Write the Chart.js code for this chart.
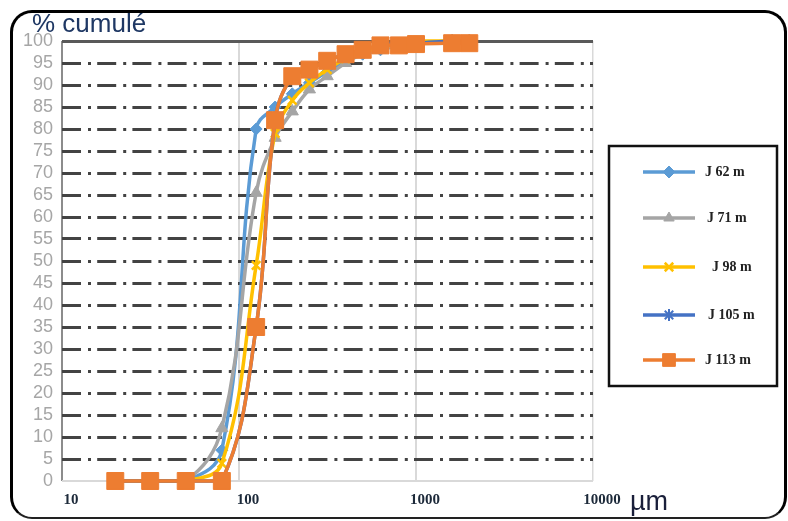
<!DOCTYPE html>
<html>
<head>
<meta charset="utf-8">
<script src="https://cdn.jsdelivr.net/npm/chart.js@4.4.1/dist/chart.umd.min.js"></script>
<style>
  html, body { margin: 0; padding: 0; background: #fff; }
  #wrap { position: relative; width: 788px; height: 521px; overflow: hidden; }
  #frame {
    position: absolute; left: 10px; top: 10px; width: 777px; height: 509px;
    box-sizing: border-box; border: 3px solid #000; border-bottom: 2px solid #222;
    border-radius: 22px; pointer-events: none;
  }
  canvas { position: absolute; left: 0; top: 0; }
</style>
</head>
<body>
<div id="wrap">
  <canvas id="c" width="788" height="521"></canvas>
  <div id="frame"></div>
</div>
<script>
// Sieve openings (µm) and cumulative passing (%) for each sample depth
const sizes = [20, 31.5, 50, 80, 125, 160, 200, 250, 315, 400, 500, 630, 800, 1000, 1600, 2000];
const j62  = [0, 0, 0, 7,  80,   85, 88,   90.5, 93,   95.5, 97,   98,   99,   99.5, 100,  100];
const j71  = [0, 0, 0, 12, 65.5, 78, 84,   89,   92,   95,   97,   98,   99,   99.5, 100,  100];
const j98  = [0, 0, 0, 4,  49,   79, 86.5, 90.5, 93.5, 96,   97.5, 98.5, 99.5, 100,  100,  100];
const j105 = [0, 0, 0, 0,  35,   82, 92,   93.5, 95.5, 97,   98,   99,   99.5, 99.5, 100,  100];
const j113 = [0, 0, 0, 0,  35,   82, 92,   93.5, 95.5, 97,   98,   99,   99,   99.3, 99.5, 99.5];

const seriesLabels = ['J 62 m', 'J 71 m', 'J 98 m', 'J 105 m', 'J 113 m'];
const xTicks = [10, 100, 1000, 10000];

const toPoints = arr => sizes.map((x, i) => ({ x: x, y: arr[i] }));

const styles = [
  { color: '#5B9BD5', pointStyle: 'rectRot',  radius: 6,  bw: 1,   legendR: 6 },
  { color: '#A5A5A5', pointStyle: 'triangle', radius: 7,  bw: 1,   legendR: 6 },
  { color: '#FFC000', pointStyle: 'crossRot', radius: 6,  bw: 2.5, legendR: 6 },
  { color: '#4472C4', pointStyle: 'star',     radius: 6,  bw: 2,   legendR: 6 },
  { color: '#ED7D31', pointStyle: 'rect',     radius: 12, bw: 1,   legendR: 9 }
];

const values = [j62, j71, j98, j105, j113];
const datasets = values.map((arr, i) => ({
  label: seriesLabels[i],
  data: toPoints(arr),
  borderColor: styles[i].color,
  backgroundColor: styles[i].color,
  pointBackgroundColor: styles[i].color,
  pointBorderColor: styles[i].color,
  pointStyle: styles[i].pointStyle,
  pointRadius: styles[i].radius,
  pointBorderWidth: styles[i].bw,
  borderWidth: 3.5,
  tension: 0.4,
  fill: false,
  clip: false,
  order: values.length - i
}));

const GRID_DASH = [19, 7, 3, 6.2];

// Boxed legend on the right plus the free-standing axis captions
const decorations = {
  id: 'decorations',
  afterDraw(chart) {
    const ctx = chart.ctx;
    ctx.save();

    // axis captions
    ctx.fillStyle = '#1F3864';
    ctx.font = '26px "Liberation Sans", Arial, sans-serif';
    ctx.textAlign = 'left';
    ctx.textBaseline = 'alphabetic';
    ctx.fillText('% cumulé', 32, 32);
    ctx.fillStyle = '#1a1f3a';
    ctx.font = '27px "Liberation Sans", Arial, sans-serif';
    ctx.fillText('µm', 630, 510);

    // legend box
    const box = { x: 609, y: 146, w: 168, h: 240 };
    ctx.strokeStyle = '#111';
    ctx.lineWidth = 2.5;
    ctx.strokeRect(box.x, box.y, box.w, box.h);

    const rowsY = [172, 218, 267, 315, 360];
    const textX = [705, 707, 712, 708, 705];
    chart.data.datasets.forEach((ds, i) => {
      const y = rowsY[i];
      ctx.strokeStyle = ds.borderColor;
      ctx.lineWidth = 3.5;
      ctx.beginPath();
      ctx.moveTo(643, y);
      ctx.lineTo(695, y);
      ctx.stroke();
      ctx.fillStyle = ds.borderColor;
      ctx.strokeStyle = ds.borderColor;
      ctx.lineWidth = styles[i].bw;
      if (Chart.helpers && Chart.helpers.drawPoint) {
        Chart.helpers.drawPoint(ctx, {
          pointStyle: ds.pointStyle, radius: styles[i].legendR,
          borderWidth: styles[i].bw, rotation: 0
        }, 669, y);
      }
      ctx.fillStyle = '#222';
      ctx.font = 'bold 14px "Liberation Serif", "Times New Roman", serif';
      ctx.textAlign = 'left';
      ctx.textBaseline = 'middle';
      ctx.fillText(ds.label, textX[i], y);
    });
    ctx.restore();
  }
};

new Chart(document.getElementById('c'), {
  type: 'line',
  data: { datasets: datasets },
  plugins: [decorations],
  options: {
    responsive: false,
    animation: false,
    devicePixelRatio: 1,
    layout: { padding: { left: 0, top: 41, right: 195, bottom: 0 } },
    plugins: { legend: { display: false }, tooltip: { enabled: false } },
    scales: {
      x: {
        type: 'logarithmic',
        min: 10,
        max: 10000,
        afterBuildTicks: s => { s.ticks = xTicks.map(v => ({ value: v })); },
        afterFit: s => { s.height = 40; },
        ticks: {
          autoSkip: false,
          maxRotation: 0,
          labelOffset: 9,
          padding: 10,
          color: '#1d2a3a',
          font: { family: '"Liberation Serif", "Times New Roman", serif', size: 15, weight: 'bold' },
          callback: v => String(v)
        },
        grid: {
          drawTicks: false,
          color: c => (c.tick && c.tick.value === 10) ? '#8c8c8c' : '#d9d9d9',
          lineWidth: c => (c.tick && c.tick.value === 10000) ? 1.5 : 2
        },
        border: { display: false }
      },
      y: {
        min: 0,
        max: 100,
        afterFit: s => { s.width = 62; },
        ticks: {
          stepSize: 5,
          autoSkip: false,
          padding: 9,
          color: '#a6a6a6',
          font: { family: '"Liberation Sans", Arial, sans-serif', size: 18 }
        },
        grid: {
          drawTicks: false,
          color: c => {
            const v = c.tick ? c.tick.value : null;
            if (v === 100) return '#595959';
            if (v === 0) return '#d9d9d9';
            return '#434343';
          },
          lineWidth: c => {
            const v = c.tick ? c.tick.value : null;
            return v === 0 ? 2 : 3;
          }
        },
        border: {
          display: false,
          dash: c => {
            const v = c.tick ? c.tick.value : null;
            return (v === null || v === 0 || v === 100) ? [] : GRID_DASH;
          }
        }
      }
    }
  }
});
</script>
</body>
</html>
